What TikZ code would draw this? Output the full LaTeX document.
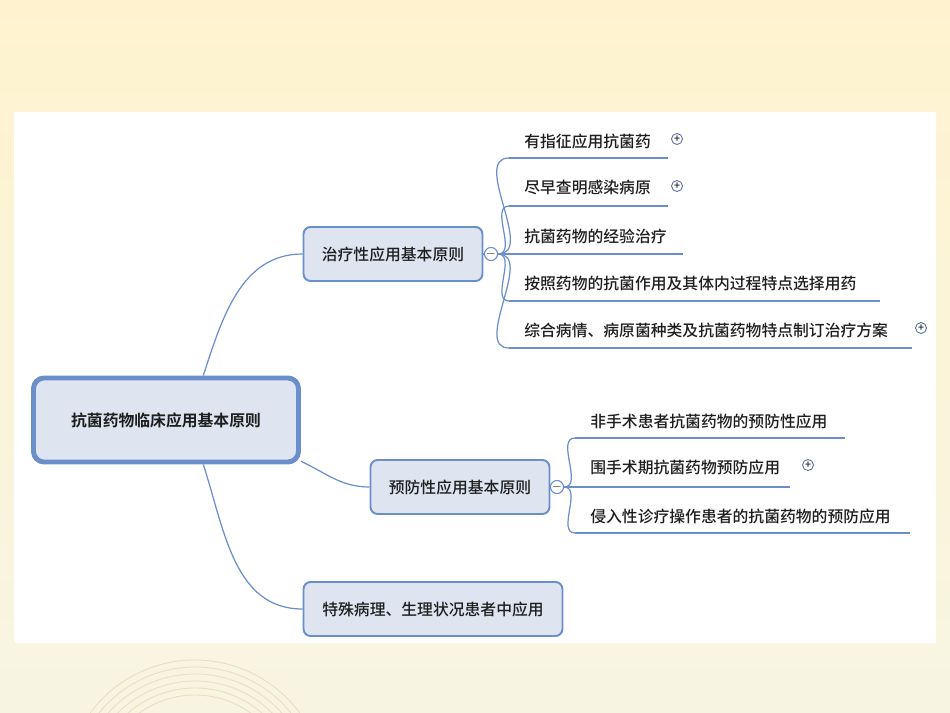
\documentclass[tikz,border=0pt]{standalone}
\usepackage{fontspec}
\setmainfont{Noto Sans CJK SC}[UprightFont={* Medium}, BoldFont={* Bold}]
\usetikzlibrary{positioning}
\definecolor{mapblue}{HTML}{6A8FCB}
\definecolor{mapfill}{HTML}{DEE5F1}
\definecolor{maptext}{HTML}{1E1E1E}
\definecolor{creamtop}{HTML}{FFF3CF}
\definecolor{creambot}{HTML}{F7F5E2}
\definecolor{creamline}{HTML}{E6E0BE}

\begin{document}
\begin{tikzpicture}[
  x=0.02cm, y=-0.02cm, font=\fontsize{9}{11}\selectfont, text=maptext,
  rootbox/.style={rectangle, rounded corners=6pt, draw=mapblue, line width=2.8pt, fill=mapfill, minimum width=5.3cm, minimum height=1.68cm, font=\fontsize{9}{11}\selectfont\bfseries},
  topic/.style={rectangle, rounded corners=4pt, draw=mapblue, line width=1.1pt, fill=mapfill, minimum width=3.58cm, minimum height=1.08cm},
  leaf/.style={anchor=west, inner sep=0pt},
  link/.style={draw=mapblue, line width=0.7pt},
  uline/.style={draw=mapblue, line width=1.7pt},
  fold/.style={circle, draw=mapblue, fill=white, line width=0.6pt, inner sep=0pt, minimum size=0.24cm, font=\fontsize{6}{6}\selectfont},
  more/.style={circle, draw=mapblue!80!black, fill=white, line width=0.5pt, inner sep=0pt, minimum size=0.22cm, font=\fontsize{6}{6}\selectfont}
]
  % background and panel
  \useasboundingbox (0,0) rectangle (950,713);
  \shade[top color=creamtop, bottom color=creambot] (0,0) rectangle (950,713);
  \begin{scope}
    \clip (0,643) rectangle (950,713);
    \foreach \r in {95,102,109,116,123,130}
      \draw[creamline, line width=0.5pt] (195,790) ++(200:\r) arc (200:340:\r);
  \end{scope}
  \fill[white] (14,112) rectangle (936,643);

  % main topics
  \node[rootbox] (root) at (166,420) {抗菌药物临床应用基本原则};
  \node[topic] (treat) at (393,254) {治疗性应用基本原则};
  \node[topic] (prev) at (460,487) {预防性应用基本原则};
  \node[topic, minimum width=5.18cm] (spec) at (433,609) {特殊病理、生理状况患者中应用};

  \draw[link] (root.50) to[out=72, in=180] (treat.west);
  \draw[link] (root.-17) to[out=-25, in=180] (prev.west);
  \draw[link] (root.-50) to[out=-72, in=180] (spec.west);

  \node[fold] (tfold) at (491,254) {$-$};
  \node[fold] (pfold) at (557,487) {$-$};
  \draw[link] (treat.east) -- (tfold.west);
  \draw[link] (prev.east) -- (pfold.west);

  % treatment principles
  \node[leaf] (t1) at (524,141) {有指征应用抗菌药};
  \node[leaf] (t2) at (524,188) {尽早查明感染病原};
  \node[leaf] (t3) at (524,236) {抗菌药物的经验治疗};
  \node[leaf] (t4) at (524,283) {按照药物的抗菌作用及其体内过程特点选择用药};
  \node[leaf] (t5) at (524,330) {综合病情、病原菌种类及抗菌药物特点制订治疗方案};
  \coordinate (t1s) at (509,158); \coordinate (t1e) at (668,158);
  \coordinate (t2s) at (509,206); \coordinate (t2e) at (668,206);
  \coordinate (t3s) at (509,254); \coordinate (t3e) at (683,254);
  \coordinate (t4s) at (509,301); \coordinate (t4e) at (880,301);
  \coordinate (t5s) at (509,348); \coordinate (t5e) at (912,348);
  \foreach \i in {1,...,5} {
    \draw[uline] (t\i s) -- (t\i e);
    \draw[link] (tfold.east) to[out=0, in=180] (t\i s);
  }
  \node[more] (t1m) at (677,139) {+};
  \node[more] (t2m) at (677,186) {+};
  \node[more] (t5m) at (921,328) {+};

  % prevention principles
  \node[leaf] (p1) at (590,421) {非手术患者抗菌药物的预防性应用};
  \node[leaf] (p2) at (590,467) {围手术期抗菌药物预防应用};
  \node[leaf] (p3) at (590,516) {侵入性诊疗操作患者的抗菌药物的预防应用};
  \coordinate (p1s) at (575,438); \coordinate (p1e) at (845,438);
  \coordinate (p2s) at (575,487); \coordinate (p2e) at (790,487);
  \coordinate (p3s) at (575,533); \coordinate (p3e) at (910,533);
  \foreach \i in {1,2,3} {
    \draw[uline] (p\i s) -- (p\i e);
    \draw[link] (pfold.east) to[out=0, in=180] (p\i s);
  }
  \node[more] (p2m) at (808,465) {+};
\end{tikzpicture}
\end{document}
